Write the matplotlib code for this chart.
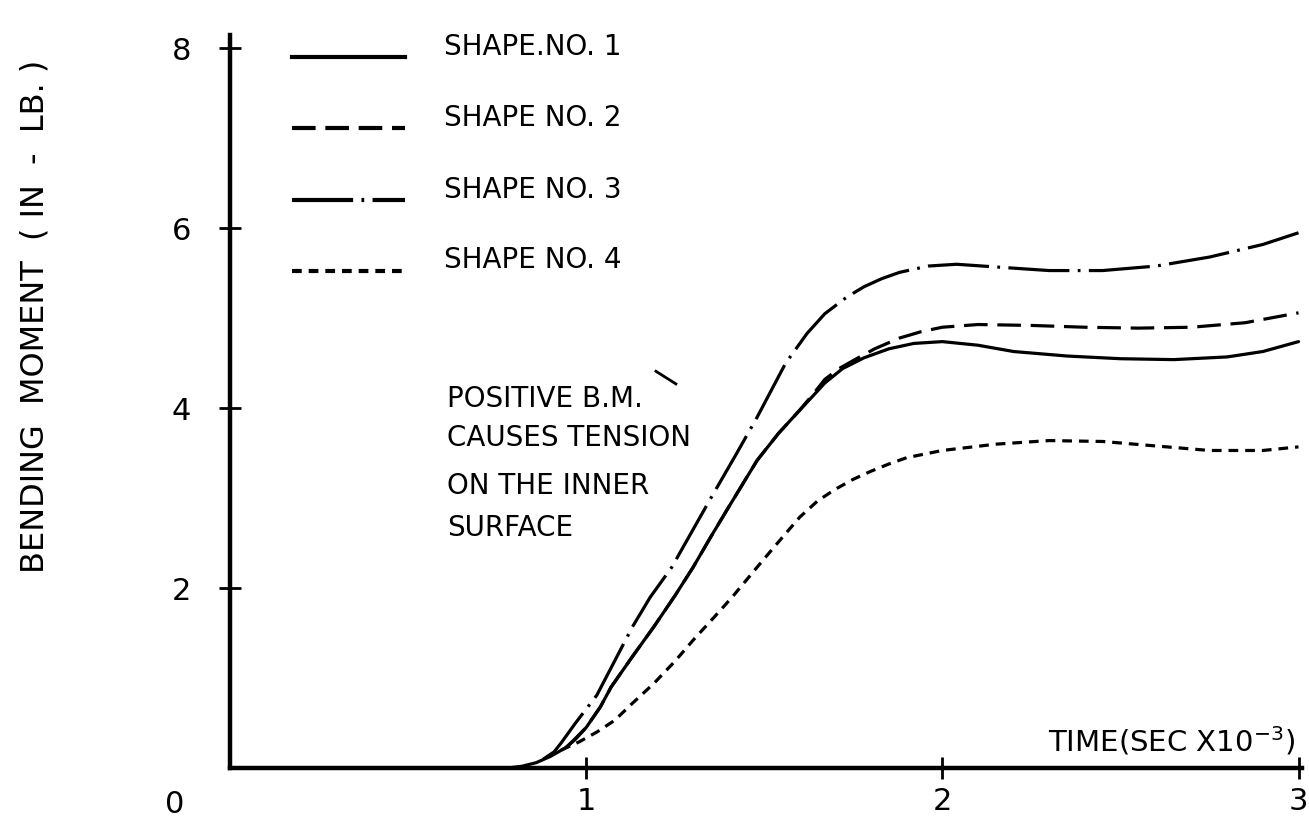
import numpy as np
import matplotlib
matplotlib.use("Agg")
import matplotlib.pyplot as plt

plt.rcParams['font.family'] = ['DejaVu Sans']
plt.rcParams['lines.scale_dashes'] = False

# time (sec x 1e-3) vs bending moment (in-lb)
x1 = [0.78, 0.82, 0.86, 0.90, 0.94, 0.97, 1.00, 1.04, 1.07, 1.13, 1.19, 1.25,
      1.30, 1.35, 1.40, 1.48, 1.54, 1.60, 1.64, 1.67, 1.72, 1.78, 1.85, 1.92,
      2.00, 2.10, 2.20, 2.35, 2.50, 2.65, 2.80, 2.90, 3.00]
y1 = [0.00, 0.02, 0.06, 0.13, 0.22, 0.32, 0.45, 0.68, 0.90, 1.24, 1.57, 1.92,
      2.23, 2.57, 2.90, 3.42, 3.72, 3.98, 4.15, 4.28, 4.44, 4.56, 4.66, 4.72,
      4.74, 4.70, 4.63, 4.58, 4.55, 4.54, 4.57, 4.63, 4.74]

x2 = [0.95, 1.00, 1.04, 1.07, 1.13, 1.19, 1.25, 1.30, 1.35, 1.40, 1.48, 1.54,
      1.60, 1.64, 1.67, 1.71, 1.75, 1.81, 1.88, 1.94, 2.00, 2.10, 2.25, 2.40,
      2.55, 2.70, 2.85, 3.00]
y2 = [0.25, 0.45, 0.68, 0.90, 1.24, 1.57, 1.92, 2.23, 2.57, 2.90, 3.42, 3.72,
      3.98, 4.17, 4.32, 4.44, 4.53, 4.66, 4.78, 4.85, 4.90, 4.93, 4.92, 4.90,
      4.89, 4.90, 4.95, 5.06]

x3 = [0.88, 0.91, 0.93, 0.97, 1.03, 1.08, 1.13, 1.18, 1.24, 1.30, 1.35, 1.42,
      1.48, 1.56, 1.62, 1.67, 1.73, 1.78, 1.83, 1.88, 1.96, 2.04, 2.15, 2.30,
      2.45, 2.60, 2.75, 2.90, 3.00]
y3 = [0.10, 0.18, 0.28, 0.50, 0.81, 1.19, 1.57, 1.90, 2.23, 2.65, 3.00, 3.48,
      3.90, 4.50, 4.83, 5.05, 5.23, 5.35, 5.44, 5.51, 5.58, 5.60, 5.57, 5.53,
      5.53, 5.58, 5.68, 5.82, 5.95]

x4 = [0.93, 0.98, 1.03, 1.08, 1.13, 1.19, 1.25, 1.30, 1.36, 1.41, 1.49, 1.55,
      1.60, 1.65, 1.70, 1.75, 1.80, 1.85, 1.90, 2.00, 2.15, 2.30, 2.45, 2.60,
      2.75, 2.90, 3.00]
y4 = [0.20, 0.29, 0.40, 0.53, 0.72, 0.94, 1.19, 1.42, 1.68, 1.90, 2.28, 2.56,
      2.79, 2.97, 3.10, 3.21, 3.30, 3.38, 3.45, 3.53, 3.60, 3.64, 3.63, 3.58,
      3.53, 3.53, 3.57]

labels = ["SHAPE.NO. 1", "SHAPE NO. 2", "SHAPE NO. 3", "SHAPE NO. 4"]
xticks = [1, 2, 3]
yticks = [2, 4, 6, 8]

styles = [
    dict(linestyle='-'),
    dict(dashes=(17, 7)),
    dict(dashes=(44, 6, 2, 6)),
    dict(dashes=(7, 5)),
]

fig = plt.figure(figsize=(13.09, 8.36), dpi=100)
ax = fig.add_axes([0.1757, 0.0813, 0.8190, 0.877])

series = [(x1, y1), (x2, y2), (x3, y3), (x4, y4)]
for (xs, ys), st in zip(series, styles):
    ax.plot(xs, ys, color='black', lw=2.3, solid_capstyle='round',
            solid_joinstyle='round', **st)

# hand drawn key in the upper left
key_y = [7.90, 7.11, 6.31, 5.53]
for ky, lab, st in zip(key_y, labels, styles):
    ax.plot([0.174, 0.49], [ky, ky], color='black', lw=3.0, **st)
    ax.text(0.60, ky + 0.12, lab, fontsize=20, va='center', ha='left')

note = ["POSITIVE B.M.", "CAUSES TENSION", "ON THE INNER", "SURFACE"]
note_y = [4.1, 3.67, 3.13, 2.67]
for ny, txt in zip(note_y, note):
    ax.text(0.61, ny, txt, fontsize=20, va='center', ha='left')
ax.plot([1.196, 1.252], [4.41, 4.27], color='black', lw=2)

ax.text(2.99, 0.12, r"TIME(SEC X$\mathregular{10^{-3}}$)", fontsize=21,
        ha='right', va='bottom')
ax.text(-0.155, -0.41, "0", fontsize=22, ha='center', va='center', clip_on=False)

ax.set_xlim(0, 3.01)
ax.set_ylim(0, 8.15)
ax.set_xticks(xticks)
ax.set_yticks(yticks)
ax.set_xticklabels([str(t) for t in xticks], fontsize=22)
ax.set_yticklabels([str(t) for t in yticks], fontsize=22)
ax.tick_params(direction='inout', length=16, width=2, pad=6)
ax.tick_params(axis='y', pad=20)

for side in ['top', 'right']:
    ax.spines[side].set_visible(False)
for side in ['left', 'bottom']:
    ax.spines[side].set_linewidth(3.2)

fig.text(35 / 1309, 1 - 316 / 836, "BENDING  MOMENT  ( IN  -  LB. )",
         rotation=90, fontsize=23, ha='center', va='center')

fig.savefig("out.png", dpi=100)
